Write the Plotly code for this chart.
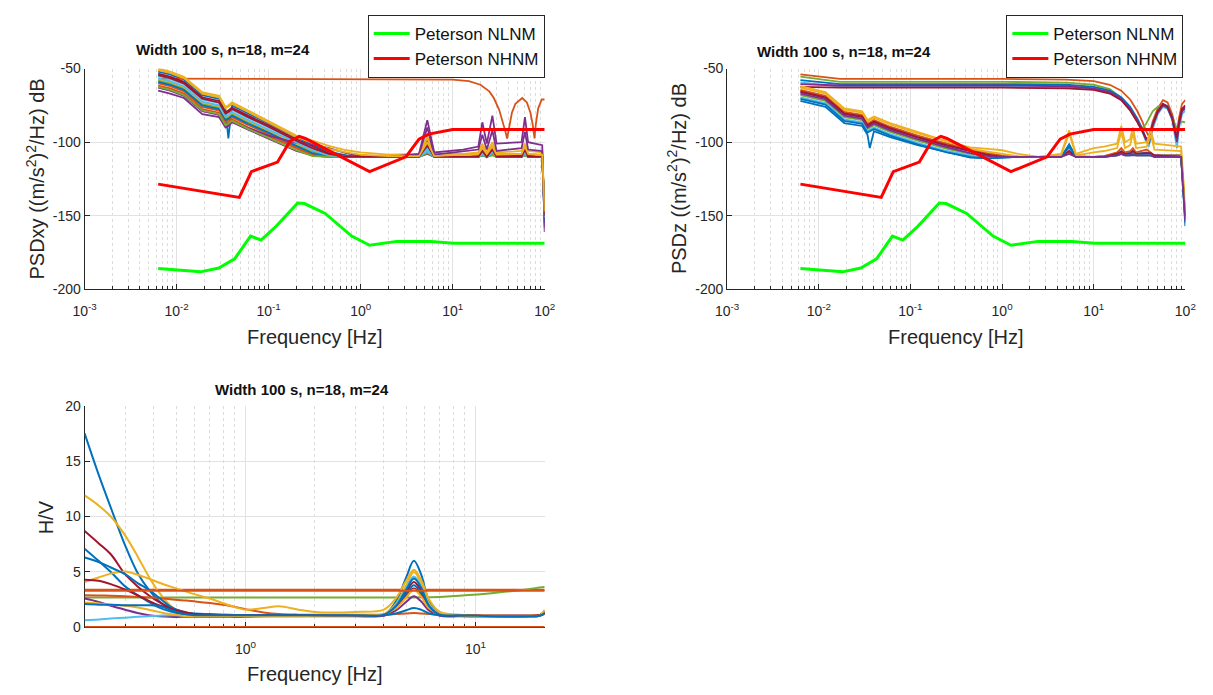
import plotly.graph_objects as go

FONT = "Liberation Sans, Arial, Helvetica, sans-serif"
BLUE, ORANGE, YELLOW, PURPLE = "#0072BD", "#D95319", "#EDB120", "#7E2F8E"
GREEN, LBLUE, DRED = "#77AC30", "#4DBEEE", "#A2142F"

# ---------------- Peterson noise models ----------------
NLNM_F = [0.0063, 0.0182, 0.0287, 0.0427, 0.0636, 0.0826, 0.1205, 0.2066, 0.245, 0.411, 0.798, 1.25, 2.47, 5.78, 10.2, 100]
NLNM_DB = [-185.9, -188.1, -185.5, -179.3, -163.8, -166.5, -157.2, -141.3, -141.7, -148.4, -163.8, -170.0, -167.4, -167.4, -168.7, -168.7]
NHNM_F = [0.0063, 0.048, 0.065, 0.125, 0.17, 0.215, 0.25, 1.25, 3.1, 4.3, 5.5, 10, 100]
NHNM_DB = [-128.5, -137.5, -120, -113.5, -99.5, -96, -97.5, -120, -110, -98, -94.5, -91.4, -91.4]

# ---------------- PSDxy (top left) ----------------
F_XY = [0.0063, 0.0085, 0.012, 0.019, 0.029, 0.034, 0.0365, 0.04, 0.06, 0.1, 0.2, 0.3, 0.45, 0.7, 1.0,
        2.0, 4.3, 5.3, 6.3, 13, 19, 21, 23.5, 27, 30, 56, 61, 66, 94, 100]
XY_01 = [-52, -54, -57.5, -68, -70.5, -78, -97.5, -75, -80.5, -87.5, -97, -102, -106.5, -109, -110, -110, -109, -103, -109.5, -110, -109.5, -106, -109, -105, -109.5, -109, -104, -109, -110, -152]
XY_02 = [-60, -62, -65.5, -76, -78.5, -86, -85, -83, -88.5, -94.5, -103.5, -108, -110, -110, -110, -110, -109.5, -106, -110, -110, -110, -108, -110, -107.5, -110, -110, -107, -110, -110, -150]
XY_03 = [-50, -52, -55.5, -66, -68.5, -76, -75, -73, -78.5, -85.5, -95.5, -99, -102.5, -105.5, -107, -108.5, -108, -96, -108, -108, -107, -101, -107, -100, -107, -106, -101, -106, -107, -145]
XY_04 = [-65, -67, -70, -81, -83, -90, -89, -86.5, -91.5, -97.5, -106, -109, -110, -110, -110, -110, -108, -85, -107, -105, -103, -86.5, -101, -82, -101, -100, -83, -100, -102, -161]
XY_05 = [-58, -60, -63.5, -74, -76.5, -84, -83, -81, -86.5, -92.5, -101.5, -106.5, -109.5, -110, -110, -110, -110, -107, -110, -110, -110, -109, -110, -108.5, -110, -110, -108, -110, -110, -148]
XY_06 = [-55, -57, -60.5, -71, -73.5, -81, -80, -78, -83.5, -90, -99.5, -104.5, -108.5, -110, -110, -110, -110, -105, -110, -110, -110, -107, -110, -106.5, -110, -110, -106, -110, -110, -152]
XY_07 = [-53.5, -55.5, -59, -69.5, -72, -79.5, -78.5, -76.5, -82, -88.5, -98, -103, -107.5, -109.5, -110, -110, -109.5, -99, -109.5, -110, -109.5, -104, -109.5, -103, -109.5, -109, -104, -109.5, -110, -150]
XY_08 = [-59, -61, -64.5, -75, -77.5, -85, -84, -82, -87.5, -93.5, -102.5, -107.5, -110, -110, -110, -110, -110, -108, -110, -110, -110, -109, -110, -108, -110, -110, -109, -110, -110, -155]
XY_09 = [-61.5, -63.5, -67, -77.5, -80, -87.5, -86.5, -84.5, -90, -96, -104.5, -109, -110, -110, -110, -110, -110, -107.5, -110, -110, -110, -108.5, -110, -108, -110, -110, -108.5, -110, -110, -149]
XY_10 = [-57, -59, -62.5, -73, -75.5, -83, -82, -80, -85.5, -92, -101, -105.5, -108.5, -110, -110, -110, -109.5, -97, -109.5, -109, -108, -103, -108, -102, -108, -108, -103, -108, -109, -147]
XY_11 = [-63, -65, -68.5, -79, -81.5, -89, -88, -86, -90.5, -95.5, -100.5, -101.5, -104, -107.5, -109.5, -110, -108.5, -90, -108.5, -106, -105, -95, -105, -92, -106, -104, -93, -105, -106, -158]
XY_12 = [-62.5, -64.5, -68, -78.5, -81, -88.5, -87.5, -85.5, -91, -97, -105.5, -109.5, -110, -110, -110, -110, -110, -107, -110, -110, -110, -109, -110, -109, -110, -110, -109, -110, -110, -149]
XY_13 = [-56.5, -58.5, -62, -72.5, -75, -82.5, -81.5, -79.5, -85, -91.5, -100.5, -105.5, -109, -110, -110, -110, -110, -106, -110, -110, -110, -108, -110, -107, -110, -110, -107.5, -110, -110, -151]
XY_14 = [-54.5, -56.5, -60, -70.5, -73, -80.5, -79.5, -77.5, -83, -89.5, -99, -104, -108, -110, -110, -110, -110, -102, -110, -110, -110, -106, -110, -105, -110, -110, -105, -110, -110, -150]
XY_15 = [-51, -53, -56.5, -67, -69.5, -77, -76, -74, -79.5, -86.5, -96.5, -100.5, -104.5, -107, -108.5, -109.5, -109.5, -100, -109.5, -108.5, -108, -104, -108, -103, -108.5, -108, -103, -108, -108.5, -147]
XY_LINES = [XY_01, XY_02, XY_03, XY_04, XY_05, XY_06, XY_07, XY_08, XY_09, XY_10, XY_11, XY_12, XY_13, XY_14, XY_15]
XY_COLORS = [BLUE, ORANGE, YELLOW, PURPLE, GREEN, LBLUE, DRED, BLUE, ORANGE, YELLOW, PURPLE, GREEN, LBLUE, DRED, YELLOW]

F_XY_FLAT = [0.0063, 1, 10, 15, 20, 25, 28, 32, 35, 37.5, 39, 41, 44, 48, 57, 64, 70, 74, 77.5, 80, 85, 93, 100]
XY_FLAT = [-56.8, -57, -57.5, -58.5, -61, -65.5, -70, -78, -86, -93, -97.5, -90, -80, -74, -70, -73, -80, -88, -97.5, -88, -77, -71, -71]

# ---------------- PSDz (top right) ----------------
F_ZU = [0.0063, 0.017, 1, 5, 10, 15, 20, 25, 30, 34, 37, 40, 44, 50, 57, 64, 72, 78, 81, 85, 92, 100]
ZU_1 = [-54, -57, -57, -57.5, -58.5, -61, -65, -71, -79, -86, -92, -96, -86, -77, -71.5, -73, -81, -91, -94, -84, -74, -71.5]
ZU_2 = [-55.5, -59, -59, -59.5, -61, -64, -70, -78, -86, -90.5, -88, -84, -79, -76, -75, -77, -83, -89, -90, -88, -86, -86.5]
ZU_3 = [-57.8, -60.5, -60.5, -61, -62.5, -65, -69.5, -76, -84, -91, -97, -99, -88, -79, -74, -75.5, -83, -95, -98, -87, -78, -76]
ZU_4 = [-59.4, -62.3, -62.3, -63, -64, -66.5, -71, -78, -86, -93, -99, -103, -91, -81, -76, -77.5, -85, -98, -104, -91, -81, -78.5]
ZU_5 = [-60.5, -61.5, -61.5, -62, -63.5, -66, -70.5, -77.5, -85.5, -92, -98, -101, -89, -80, -75, -76.5, -84, -96, -100, -89, -79, -77]
ZU_6 = [-62.5, -63, -63, -63.5, -64.5, -67, -71.5, -78.5, -86.5, -93, -97, -98, -88, -79, -74, -76, -84, -94, -97, -87, -77.5, -75]
ZU_LINES = [ZU_1, ZU_2, ZU_3, ZU_4, ZU_5, ZU_6]
ZU_COLORS = [ORANGE, GREEN, BLUE, LBLUE, PURPLE, DRED]

F_ZL = [0.0063, 0.0118, 0.019, 0.0297, 0.034, 0.036, 0.04, 0.06, 0.12, 0.25, 0.45, 0.7, 1.0, 1.5, 2.5,
        4.4, 5.4, 6.4, 10, 13, 18, 20, 22, 25, 26.8, 29, 38, 42, 46, 90, 100]
ZL_01 = [-72, -76, -87, -89, -95, -104, -92.5, -96.5, -102, -107, -110.5, -111, -110.5, -110, -110, -110, -101.5, -110, -110, -109.5, -108, -106, -108, -107, -106, -108, -107, -108, -109, -109, -152]
ZL_02 = [-64.5, -68.5, -79.5, -81.5, -87.5, -86.5, -85, -89.5, -95.5, -101, -105, -107.5, -109, -110, -110, -109.5, -104, -109.5, -110, -109.5, -107, -104, -107, -106, -104, -107, -105, -107, -109, -109, -150]
ZL_03 = [-63, -67, -78, -80, -86, -85, -83.5, -88, -94, -99.5, -103.5, -104.5, -105.5, -108, -110, -108, -92, -108, -104, -103, -101, -89, -100, -98, -90, -101, -100, -92, -101, -103, -145]
ZL_04 = [-66, -70, -81, -83, -89, -88, -86.5, -91, -97, -102.5, -106.5, -109, -110, -110, -110, -110, -107, -110, -110, -110, -108, -107, -108, -108, -107, -108, -108, -108.5, -109, -110, -153]
ZL_05 = [-68, -72, -83, -85, -91, -90, -88.5, -93, -99, -104.5, -108, -110, -110, -110, -110, -110, -107.5, -110, -110, -110, -109, -108, -109, -109, -108, -109, -109, -109, -110, -110, -151]
ZL_06 = [-69.5, -73.5, -84.5, -86.5, -92.5, -91.5, -90, -94.5, -100.5, -106, -109, -110, -110, -110, -110, -110, -104, -110, -110, -110, -108.5, -107, -108.5, -108.5, -107, -108.5, -108.5, -108, -110, -110, -155]
ZL_07 = [-65.5, -69.5, -80.5, -82.5, -88.5, -87.5, -86, -90.5, -96.5, -102, -106, -108.5, -110, -110, -110, -110, -106, -110, -110, -110, -108, -106.5, -108, -108, -106, -108, -107.5, -107.5, -109, -110, -150]
ZL_08 = [-70.5, -74.5, -85.5, -87.5, -93.5, -92.5, -91, -95.5, -101.5, -107, -110, -111, -110.5, -110, -110, -110, -103, -110, -110, -110, -109, -108, -109, -109, -108, -109, -109, -109, -110, -110, -157]
ZL_09 = [-62, -66, -77, -79, -85, -84, -82.5, -87, -93, -99, -104.5, -106.5, -108, -109.5, -110, -109, -94, -109, -107, -106, -104, -93, -104, -102, -94, -104, -103, -95, -105, -106, -147]
ZL_10 = [-67, -71, -82, -84, -90, -89, -87.5, -92, -98, -103.5, -107.5, -109.5, -110, -110, -110, -110, -108, -110, -110, -110, -109, -108, -109, -109, -108.5, -109, -109, -109, -110, -110, -154]
ZL_LINES = [ZL_01, ZL_02, ZL_03, ZL_04, ZL_05, ZL_06, ZL_07, ZL_08, ZL_09, ZL_10]
ZL_COLORS = [BLUE, ORANGE, YELLOW, PURPLE, GREEN, LBLUE, DRED, BLUE, YELLOW, PURPLE]

# ---------------- H/V (bottom) ----------------
F_HV = [0.2, 0.23, 0.26, 0.3, 0.34, 0.38, 0.42, 0.47, 0.53, 0.6, 0.7, 0.85, 1.0, 1.2, 1.4,
        1.7, 2.0, 3.0, 4.0, 4.5, 5.0, 5.4, 5.8, 6.3, 7.0, 8.5, 12, 17, 19, 20]
HV_01 = [17.5, 13.8, 10.8, 7.4, 4.9, 3.4, 2.4, 1.65, 1.35, 1.25, 1.2, 1.15, 1.1, 1.1, 1.1, 1.1, 1.1, 1.1, 1.15, 2.3, 4.5, 6.0, 4.8, 2.3, 1.2, 1.1, 1.0, 1.0, 1.1, 1.4]
HV_02 = [11.9, 11.0, 10.0, 8.3, 6.4, 4.6, 3.2, 2.0, 1.25, 1.05, 1.0, 1.0, 1.0, 1.0, 1.05, 1.05, 1.1, 1.1, 1.2, 2.1, 3.8, 5.0, 4.0, 2.1, 1.2, 1.05, 1.0, 1.0, 1.05, 1.3]
HV_03 = [2.6, 2.3, 1.95, 1.6, 1.3, 1.1, 1.0, 0.95, 0.95, 0.95, 0.95, 0.95, 0.95, 1.0, 1.0, 1.0, 1.0, 1.0, 1.05, 1.5, 2.3, 2.8, 2.35, 1.5, 1.05, 1.0, 1.0, 1.0, 1.05, 1.25]
HV_04 = [0.65, 0.72, 0.8, 0.88, 0.95, 1.0, 1.05, 1.1, 1.1, 1.1, 1.1, 1.1, 1.1, 1.1, 1.1, 1.1, 1.1, 1.1, 1.15, 2.0, 3.55, 4.6, 3.7, 2.0, 1.2, 1.1, 1.05, 1.05, 1.1, 1.35]
HV_05 = [8.7, 7.6, 6.6, 4.8, 3.7, 2.9, 2.3, 1.8, 1.45, 1.2, 1.1, 1.1, 1.1, 1.1, 1.1, 1.1, 1.1, 1.1, 1.15, 1.85, 3.2, 4.1, 3.35, 1.85, 1.15, 1.1, 1.05, 1.05, 1.1, 1.35]
HV_06 = [7.1, 6.0, 5.0, 3.7, 2.9, 2.3, 1.8, 1.45, 1.2, 1.1, 1.1, 1.1, 1.1, 1.1, 1.1, 1.1, 1.1, 1.1, 1.15, 1.8, 3.0, 3.8, 3.1, 1.8, 1.15, 1.1, 1.0, 1.0, 1.1, 1.5]
HV_07 = [2.9, 2.88, 2.85, 2.8, 2.75, 2.7, 2.65, 2.55, 2.45, 2.35, 2.2, 1.95, 1.65, 1.35, 1.2, 1.15, 1.15, 1.15, 1.15, 1.2, 1.25, 1.3, 1.25, 1.2, 1.15, 1.1, 1.05, 1.05, 1.1, 1.2]
HV_08 = [4.1, 4.5, 4.85, 5.05, 4.75, 4.4, 4.05, 3.7, 3.35, 3.0, 2.6, 2.0, 1.6, 1.75, 1.9, 1.6, 1.4, 1.4, 1.6, 2.6, 4.2, 5.2, 4.3, 2.5, 1.4, 1.15, 1.05, 1.05, 1.1, 1.5]
HV_09 = [6.3, 5.9, 5.4, 4.8, 4.0, 3.4, 2.7, 1.9, 1.4, 1.15, 1.1, 1.1, 1.1, 1.1, 1.1, 1.1, 1.1, 1.1, 1.1, 1.25, 1.55, 1.75, 1.6, 1.25, 1.1, 1.05, 1.0, 1.0, 1.05, 1.3]
HV_10 = [4.3, 4.2, 3.9, 3.4, 2.9, 2.4, 2.0, 1.7, 1.4, 1.2, 1.1, 1.1, 1.1, 1.1, 1.1, 1.1, 1.1, 1.1, 1.15, 1.7, 2.8, 3.5, 2.9, 1.7, 1.15, 1.1, 1.05, 1.05, 1.1, 1.3]
HV_11 = [2.25, 2.15, 2.05, 1.95, 1.8, 1.6, 1.4, 1.2, 1.05, 1.0, 1.0, 1.0, 1.0, 1.0, 1.0, 1.0, 1.05, 1.1, 1.2, 1.7, 2.7, 3.4, 2.8, 1.7, 1.2, 1.1, 1.0, 1.0, 1.05, 1.6]
HV_12 = [2.1, 2.05, 2.05, 2.0, 2.0, 2.0, 1.95, 1.6, 1.25, 1.1, 1.1, 1.1, 1.1, 1.1, 1.1, 1.1, 1.1, 1.1, 1.15, 1.9, 3.4, 4.4, 3.6, 1.9, 1.15, 1.1, 1.0, 1.0, 1.05, 1.3]
HV_LINES = [HV_01, HV_02, HV_03, HV_04, HV_05, HV_06, HV_07, HV_08, HV_09, HV_10, HV_11, HV_12]
HV_COLORS = [BLUE, YELLOW, PURPLE, LBLUE, DRED, BLUE, ORANGE, YELLOW, BLUE, DRED, YELLOW, BLUE]

F_HV_GREEN = [0.2, 1, 3, 7, 8.5, 12, 17, 19, 20]
HV_GREEN = [2.7, 2.7, 2.7, 2.75, 2.85, 3.1, 3.45, 3.6, 3.65]
F_HV_FLAT = [0.2, 20]
HV_FLAT_A = [3.4, 3.4]
HV_FLAT_B = [3.3, 3.3]
HV_ZERO = [0, 0]

# ---------------- ticks ----------------
PSD_XTICKS = [0.001, 0.01, 0.1, 1, 10, 100]
PSD_XTEXT = ["10<sup>-3</sup>", "10<sup>-2</sup>", "10<sup>-1</sup>", "10<sup>0</sup>", "10<sup>1</sup>", "10<sup>2</sup>"]
PSD_YTICKS = [-200, -150, -100, -50]
PSD_YTEXT = ["-200", "-150", "-100", "-50"]
HV_XTICKS = [1, 10]
HV_XTEXT = ["10<sup>0</sup>", "10<sup>1</sup>"]
HV_YTICKS = [0, 5, 10, 15, 20]

PSD_MINOR = [m * 10 ** e for e in range(-3, 2) for m in range(2, 10)]
HV_MINOR = [0.2, 0.3, 0.4, 0.5, 0.6, 0.7, 0.8, 0.9, 2, 3, 4, 5, 6, 7, 8, 9, 20]

W, H = 1213, 695
def px_x(p): return p / W
def px_y(p): return 1 - p / H

fig = go.Figure()

def line(x, y, color, width, xa, ya, name=None, legend=None, shape="linear"):
    fig.add_trace(go.Scatter(
        x=x, y=y, mode="lines", xaxis=xa, yaxis=ya,
        line=dict(color=color, width=width, shape=shape),
        name=name, showlegend=name is not None,
        legend=legend if legend else "legend", hoverinfo="skip"))

# top-left
line(F_XY, XY_01, XY_COLORS[0], 1.8, "x", "y")
line(F_XY_FLAT, XY_FLAT, ORANGE, 1.8, "x", "y")
for ys, c in zip(XY_LINES[1:], XY_COLORS[1:]):
    line(F_XY, ys, c, 1.8, "x", "y")
line(NLNM_F, NLNM_DB, "#00FF00", 3, "x", "y", "Peterson NLNM", "legend")
line(NHNM_F, NHNM_DB, "#FF0000", 3, "x", "y", "Peterson NHNM", "legend")

# top-right
for ys, c in zip(ZU_LINES, ZU_COLORS):
    line(F_ZU, ys, c, 1.8, "x2", "y2")
for ys, c in zip(ZL_LINES, ZL_COLORS):
    line(F_ZL, ys, c, 1.8, "x2", "y2")
line(NLNM_F, NLNM_DB, "#00FF00", 3, "x2", "y2", "Peterson NLNM", "legend2")
line(NHNM_F, NHNM_DB, "#FF0000", 3, "x2", "y2", "Peterson NHNM", "legend2")

# bottom
line(F_HV_FLAT, HV_FLAT_A, ORANGE, 2, "x3", "y3")
line(F_HV_FLAT, HV_ZERO, ORANGE, 3, "x3", "y3")
line(F_HV_GREEN, HV_GREEN, GREEN, 2, "x3", "y3", shape="spline")
for ys, c in zip(HV_LINES, HV_COLORS):
    line(F_HV, ys, c, 2, "x3", "y3", shape="spline")
line(F_HV_FLAT, HV_FLAT_B, ORANGE, 2, "x3", "y3")

AX = "#262626"
def xaxis_log(domain, anchor, rng, tv, tt, minor):
    return dict(type="log", domain=domain, anchor=anchor, range=rng,
                tickmode="array", tickvals=tv, ticktext=tt,
                showgrid=True, gridcolor="#e2e2e2", gridwidth=1,
                minor=dict(tickmode="array", tickvals=minor, showgrid=True,
                           gridcolor="#dcdcdc", griddash="dot", gridwidth=1,
                           ticks="inside", ticklen=3, tickcolor=AX),
                ticks="inside", ticklen=5, tickcolor=AX, ticklabelstandoff=9,
                showline=True, linecolor=AX, linewidth=1, zeroline=False,
                layer="below traces",
                tickfont=dict(size=14, color=AX, family=FONT), fixedrange=True)

def yaxis_lin(domain, anchor, rng, tv, tt):
    return dict(domain=domain, anchor=anchor, range=rng,
                tickmode="array", tickvals=tv, ticktext=tt,
                showgrid=True, gridcolor="#e2e2e2", gridwidth=1,
                ticks="inside", ticklen=5, tickcolor=AX,
                showline=True, linecolor=AX, linewidth=1, zeroline=False,
                layer="below traces",
                tickfont=dict(size=14, color=AX, family=FONT), fixedrange=True)

XD1 = [px_x(74), px_x(543)]
XD2 = [px_x(729), px_x(1196)]
YD1 = [px_y(288), px_y(62)]
YD3 = [px_y(634), px_y(407)]

LEG = dict(y=px_y(7), yanchor="top", xanchor="right",
           bordercolor=AX, borderwidth=1, bgcolor="white",
           font=dict(size=17, family=FONT, color="#111"), tracegroupgap=0, itemwidth=36)

fig.update_layout(
    width=W, height=H, margin=dict(l=0, r=0, t=0, b=0),
    paper_bgcolor="white", plot_bgcolor="white",
    font=dict(family=FONT, color=AX),
    xaxis=xaxis_log(XD1, "y", [-3, 2], PSD_XTICKS, PSD_XTEXT, PSD_MINOR),
    yaxis=yaxis_lin(YD1, "x", [-200, -50], PSD_YTICKS, PSD_YTEXT),
    xaxis2=xaxis_log(XD2, "y2", [-3, 2], PSD_XTICKS, PSD_XTEXT, PSD_MINOR),
    yaxis2=yaxis_lin(YD1, "x2", [-200, -50], PSD_YTICKS, PSD_YTEXT),
    xaxis3=xaxis_log(XD1, "y3", [-0.69897, 1.30103], HV_XTICKS, HV_XTEXT, HV_MINOR),
    yaxis3=yaxis_lin(YD3, "x3", [0, 20], HV_YTICKS, [str(v) for v in HV_YTICKS]),
    legend=dict(x=px_x(543), **LEG),
    legend2=dict(x=px_x(1194), **LEG),
    showlegend=True,
)

TITLE = "<b>Width 100 s, n=18, m=24</b>"
def ann(text, x, y, size, angle=0, color="#111"):
    fig.add_annotation(text=text, x=px_x(x), y=px_y(y), xref="paper", yref="paper",
                       showarrow=False, textangle=angle, xanchor="center", yanchor="middle",
                       font=dict(size=size, family=FONT, color=color))

ann(TITLE, 215, 42, 15)
ann(TITLE, 848, 45, 15)
ann(TITLE, 296, 391, 15)
ann("Frequency [Hz]", 309, 337, 20, color=AX)
ann("Frequency [Hz]", 962, 337, 20, color=AX)
ann("Frequency [Hz]", 309, 682, 20, color=AX)
ann("PSDxy ((m/s<sup>2</sup>)<sup>2</sup>/Hz) dB", 24, 175, 20, -90, AX)
ann("PSDz ((m/s<sup>2</sup>)<sup>2</sup>/Hz) dB", 678, 175, 20, -90, AX)
ann("H/V", 35, 521, 20, -90, AX)

fig.write_html("out.html")
